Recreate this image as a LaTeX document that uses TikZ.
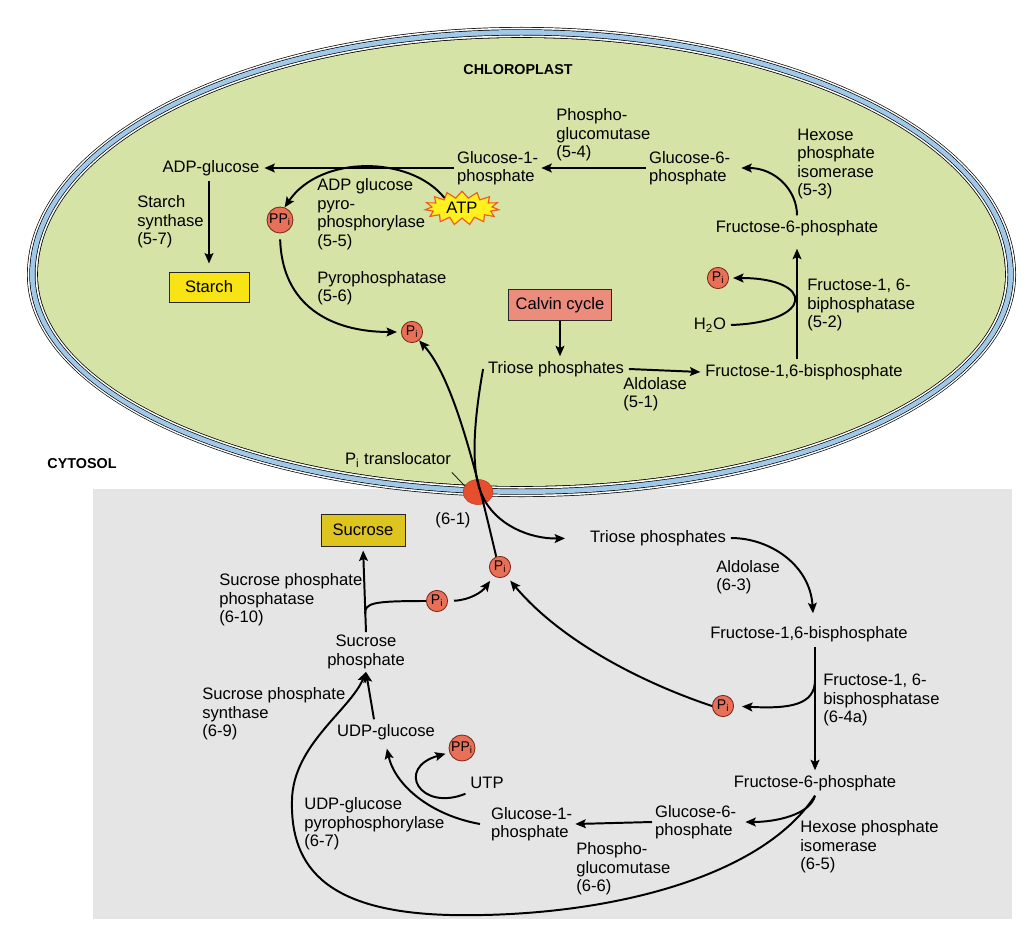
\documentclass[tikz,border=0pt]{standalone}
\usepackage{fontspec}
\setmainfont{Liberation Sans}
\usetikzlibrary{arrows.meta,shapes.symbols,shapes.geometric}

\definecolor{stroma}{RGB}{214,227,166}
\definecolor{membrane}{RGB}{160,200,232}
\definecolor{cytosol}{RGB}{229,229,229}
\definecolor{phosfill}{RGB}{233,112,88}
\definecolor{phosline}{RGB}{120,40,25}
\definecolor{calvinfill}{RGB}{236,140,124}
\definecolor{starchy}{RGB}{248,228,20}
\definecolor{sucrosey}{RGB}{222,196,30}
\definecolor{transloc}{RGB}{230,78,45}
\definecolor{atpfill}{RGB}{255,240,30}
\definecolor{atpline}{RGB}{235,90,30}

\newcommand{\plastid}[1]{({32.5-(#1)},275) arc[start angle=180,end angle=0,x radius={(489+(#1))*0.025cm},y radius={(242.5+(#1))*0.025cm}] arc[start angle=0,end angle=-180,x radius={(489+(#1))*0.025cm},y radius={(216.5+(#1))*0.025cm}] -- cycle}

\begin{document}
\begin{tikzpicture}[x=0.025cm,y=-0.025cm,
  every node/.style={font=\fontsize{11.8}{13.2}\selectfont},
  lab/.style={align=left,anchor=west,inner sep=0pt},
  met/.style={align=left,inner sep=2pt},
  phos/.style={circle,draw=phosline,fill=phosfill,line width=0.6pt,inner sep=0pt,minimum size=0.53cm,font=\fontsize{10}{10}\selectfont},
  pbox/.style={draw=black!85,line width=0.7pt,inner sep=0pt},
  arr/.style={line width=1.4pt,-{Stealth[length=0.26cm,width=0.22cm,inset=0.05cm]}}]
\useasboundingbox (0,0) rectangle (1024,926);
\fill[white] (0,0) rectangle (1024,926);
\fill[cytosol] (93,489) rectangle (1012,919);
\foreach \off/\col in {5.5/black,4.8/white,3.2/black,2.5/membrane,-2.3/black,-3.0/white,-4.7/black,-5.5/stroma} \fill[\col] \plastid{\off};
\node[font=\bfseries\fontsize{10.2}{12}\selectfont] at (518,70) {CHLOROPLAST};
\node[font=\bfseries\fontsize{10.2}{12}\selectfont] at (82,464) {CYTOSOL};

% chloroplast
\node (adpg) at (211,168) {ADP-glucose};
\node[met,anchor=west] (g1p) at (454,168) {Glucose-1-\\phosphate};
\node[met,anchor=west] (g6p) at (646,168) {Glucose-6-\\phosphate};
\node (f6p) at (797,228) {Fructose-6-phosphate};
\node (fbp) at (804,372) {Fructose-1,6-bisphosphate};
\node (triose) at (556,369) {Triose phosphates};
\node[pbox,fill=calvinfill,minimum width=2.575cm,minimum height=0.775cm] (calvin) at (560,305) {Calvin cycle};
\node[pbox,fill=starchy,minimum width=2cm,minimum height=0.75cm] (starch) at (209,287) {Starch};
\node[phos,minimum size=0.65cm] (ppi) at (280,220) {PP\textsubscript{i}};
\node[phos] (pia) at (412,332) {P\textsubscript{i}};
\node[phos] (pib) at (718,278) {P\textsubscript{i}};
\node (h2o) at (710,325) {H\textsubscript{2}O};
\node[starburst,starburst points=15,starburst point height=0.17cm,random starburst=0,fill=atpfill,draw=atpline,line width=0.8pt,inner sep=1pt,minimum width=1.85cm,minimum height=0.72cm] (atp) at (462,208) {ATP};

\node[lab] at (137,222) {Starch\\synthase\\(5-7)};
\node[lab] at (317,214) {ADP glucose\\pyro-\\phosphorylase\\(5-5)};
\node[lab] at (317,288) {Pyrophosphatase\\(5-6)};
\node[lab] at (556,135) {Phospho-\\glucomutase\\(5-4)};
\node[lab] at (797,164) {Hexose\\phosphate\\isomerase\\(5-3)};
\node[lab] at (807,305) {Fructose-1, 6-\\biphosphatase\\(5-2)};
\node[lab] at (623,394) {Aldolase\\(5-1)};

\draw[arr] (g1p.west) -- (adpg.east);
\draw[arr,shorten >=0.2cm] (adpg.south -| starch.north) -- (starch.north);
\draw[arr] (atp.150) .. controls (410,155) and (320,155) .. (ppi.70);
\draw[arr,shorten <=0.15cm,shorten >=0.1cm] (ppi.south) .. controls (282,305) and (330,332) .. (pia.west);
\draw[arr] (calvin.south) -- (calvin.south |- triose.north);
\draw[arr] (triose.east) -- (fbp.west);
\draw[arr,shorten >=0.2cm] (fbp.north -| f6p) -- (f6p.south);
\draw[arr,shorten >=0.2cm] (f6p.north) .. controls (797,190) and (775,168) .. (g6p.east);
\draw[arr] (g6p.west) -- (g1p.east);
\draw[arr,shorten >=0.1cm] (h2o.east) .. controls (815,322) and (815,278) .. (pib.east);

% translocator
\node[ellipse,fill=transloc,draw=transloc!80!black,line width=0.4pt,minimum width=0.75cm,minimum height=0.625cm,inner sep=0pt] (tl) at (478,492) {};
\node (tllab) at (398,460) {P\textsubscript{i} translocator};
\draw[line width=0.5pt] ([xshift=-0.1cm]tllab.south east) -- (tl.155);
\node at (453,520) {(6-1)};

% cytosol
\node[pbox,fill=sucrosey,minimum width=2.1cm,minimum height=0.8cm] (sucrose) at (363,530) {Sucrose};
\node (triose2) at (658,538) {Triose phosphates};
\node (fbp2) at (809,634) {Fructose-1,6-bisphosphate};
\node (f6p2) at (815,783) {Fructose-6-phosphate};
\node[met,anchor=west] (g6p2) at (652,822) {Glucose-6-\\phosphate};
\node[met,anchor=west] (g1p2) at (488,824) {Glucose-1-\\phosphate};
\node (udpg) at (386,732) {UDP-glucose};
\node[met,align=center] (sucp) at (366,652) {Sucrose\\phosphate};
\node (utp) at (487,783) {UTP};
\node[phos,minimum size=0.65cm] (ppi2) at (462,748) {PP\textsubscript{i}};
\node[phos] (pic) at (500,567) {P\textsubscript{i}};
\node[phos] (pid) at (437,601) {P\textsubscript{i}};
\node[phos] (pie) at (723,706) {P\textsubscript{i}};
\coordinate (br1) at (815,680);
\coordinate (br2) at (365,614);

\node[lab] at (716,577) {Aldolase\\(6-3)};
\node[lab] at (823,700) {Fructose-1, 6-\\bisphosphatase\\(6-4a)};
\node[lab] at (800,847) {Hexose phosphate\\isomerase\\(6-5)};
\node[lab] at (576,869) {Phospho-\\glucomutase\\(6-6)};
\node[lab] at (304,824) {UDP-glucose\\pyrophosphorylase\\(6-7)};
\node[lab] at (202,714) {Sucrose phosphate\\synthase\\(6-9)};
\node[lab] at (219,600) {Sucrose phosphate\\phosphatase\\(6-10)};

\draw[arr] (pic.110) .. controls (478,480) and (455,380) .. (pia.-50);
\draw[arr,shorten >=0.5cm] (triose.west) .. controls (474,420) and (470,470) .. (482,495) .. controls (495,525) and (530,539) .. (triose2.west);
\draw[arr] (triose2.east) .. controls (770,538) and (810,565) .. ([xshift=0.1cm,yshift=0.2cm]fbp2.north);
\draw[arr] (fbp2.south -| f6p2) -- (f6p2.north);
\draw[arr,shorten >=0.2cm] (br1) .. controls (815,705) and (790,709) .. (pie.east);
\draw[arr,shorten >=0.15cm] (pie.west) .. controls (640,682) and (560,640) .. (pic.-55);
\draw[arr,shorten >=0.15cm] (f6p2.south) .. controls (810,815) and (775,822) .. (g6p2.east);
\draw[arr] (f6p2.south) .. controls (760,880) and (600,918) .. (450,915) .. controls (330,912) and (290,870) .. (292,800) .. controls (293,745) and (350,710) .. (sucp.south);
\draw[arr] ([xshift=-0.3cm]udpg.north) -- (sucp.south);
\draw[arr,shorten >=0.1cm] (sucp.north) -- (sucrose.south);
\draw[line width=1.4pt] (br2) .. controls (365,603) and (372,601) .. (pid.west);
\draw[arr,shorten <=0.15cm,shorten >=0.15cm] (pid.east) .. controls (470,600) and (482,592) .. (pic.-125);
\draw[arr] (g6p2.west) -- (g1p2.east);
\draw[arr,shorten >=0.1cm] ([xshift=-0.2cm]g1p2.west) .. controls (430,815) and (395,785) .. (udpg.south);
\draw[arr,shorten >=0.1cm] (utp.south west) .. controls (420,812) and (395,768) .. (ppi2.200);
\end{tikzpicture}
\end{document}
